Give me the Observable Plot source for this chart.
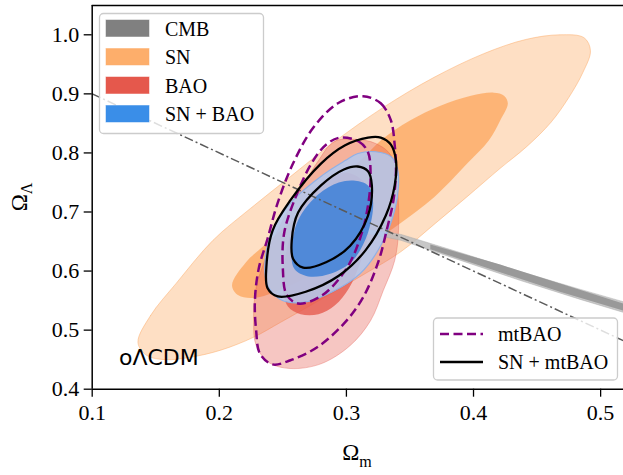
<!DOCTYPE html>
<html><head><meta charset="utf-8">
<script src="https://cdn.jsdelivr.net/npm/d3@7"></script>
<script src="https://cdn.jsdelivr.net/npm/@observablehq/plot@0.6"></script>
<style>body{margin:0;background:#fff}</style>
</head><body><div id="chart"></div>
<script>
// ---- data (Omega_m, Omega_Lambda) ----
const xTicks = [0.1, 0.2, 0.3, 0.4, 0.5];
const yTicks = [0.4, 0.5, 0.6, 0.7, 0.8, 0.9, 1.0];

const snOuter = [[0.136,0.479],[0.146,0.525],[0.166,0.579],[0.195,0.652],[0.2245,0.706],[0.256,0.760],[0.290,0.818],[0.329,0.877],[0.369,0.928],[0.408,0.968],[0.441,0.992],[0.468,1.000],[0.487,0.995],[0.492,0.973],[0.486,0.936],[0.475,0.894],[0.461,0.852],[0.442,0.811],[0.421,0.774],[0.395,0.726],[0.369,0.679],[0.343,0.633],[0.315,0.596],[0.280,0.552],[0.248,0.513],[0.227,0.488],[0.201,0.466],[0.177,0.454],[0.158,0.450],[0.143,0.457]];
const snInner = [[0.210,0.576],[0.221,0.615],[0.235,0.643],[0.264,0.699],[0.290,0.750],[0.311,0.787],[0.327,0.821],[0.350,0.855],[0.374,0.880],[0.398,0.897],[0.416,0.902],[0.424,0.897],[0.427,0.884],[0.421,0.855],[0.412,0.821],[0.395,0.782],[0.369,0.725],[0.343,0.682],[0.319,0.647],[0.288,0.609],[0.256,0.576],[0.229,0.555],[0.215,0.559]];
const baoOuter = [[0.290,0.819],[0.307,0.823],[0.323,0.816],[0.335,0.796],[0.340,0.741],[0.341,0.669],[0.338,0.618],[0.329,0.567],[0.319,0.516],[0.303,0.474],[0.280,0.443],[0.256,0.435],[0.239,0.445],[0.229,0.474],[0.227,0.516],[0.229,0.572],[0.238,0.630],[0.250,0.686],[0.266,0.745],[0.278,0.787]];
const baoInner = [[0.299,0.767],[0.313,0.753],[0.319,0.720],[0.317,0.660],[0.310,0.609],[0.302,0.571],[0.291,0.542],[0.278,0.527],[0.264,0.527],[0.254,0.540],[0.250,0.576],[0.252,0.626],[0.260,0.686],[0.273,0.733],[0.286,0.758]];
const snBaoOuter = [[0.309,0.799],[0.323,0.802],[0.335,0.794],[0.340,0.775],[0.341,0.745],[0.338,0.703],[0.328,0.647],[0.311,0.596],[0.289,0.565],[0.266,0.547],[0.248,0.552],[0.238,0.576],[0.236,0.618],[0.242,0.669],[0.258,0.720],[0.281,0.762],[0.299,0.787]];
const snBaoInner = [[0.307,0.753],[0.317,0.745],[0.321,0.716],[0.317,0.665],[0.305,0.618],[0.288,0.596],[0.270,0.591],[0.259,0.604],[0.257,0.635],[0.262,0.686],[0.278,0.730],[0.294,0.750]];
const mtbaoOuter = [[0.313,0.896],[0.327,0.884],[0.335,0.855],[0.338,0.813],[0.339,0.770],[0.337,0.720],[0.332,0.672],[0.325,0.615],[0.313,0.555],[0.298,0.511],[0.277,0.471],[0.256,0.449],[0.242,0.442],[0.232,0.460],[0.229,0.499],[0.228,0.550],[0.231,0.604],[0.238,0.655],[0.246,0.716],[0.258,0.782],[0.274,0.843],[0.294,0.885]];
const mtbaoInner = [[0.295,0.826],[0.310,0.819],[0.317,0.801],[0.319,0.762],[0.317,0.711],[0.311,0.657],[0.300,0.604],[0.281,0.559],[0.262,0.545],[0.253,0.560],[0.250,0.604],[0.251,0.664],[0.260,0.725],[0.273,0.784],[0.284,0.814]];
const snMtbaoOuter = [[0.317,0.826],[0.327,0.826],[0.335,0.814],[0.339,0.787],[0.338,0.745],[0.331,0.694],[0.315,0.635],[0.294,0.592],[0.268,0.565],[0.246,0.557],[0.238,0.571],[0.237,0.606],[0.242,0.669],[0.256,0.720],[0.280,0.782],[0.299,0.813]];
const snMtbaoInner = [[0.309,0.777],[0.317,0.769],[0.320,0.745],[0.317,0.694],[0.303,0.643],[0.284,0.615],[0.266,0.606],[0.258,0.621],[0.257,0.652],[0.262,0.699],[0.280,0.745],[0.298,0.772]];
const cmbOuter = [[0.302,0.675],[0.343,0.662],[0.390,0.631],[0.437,0.599],[0.484,0.569],[0.518,0.548],[0.518,0.530],[0.484,0.552],[0.437,0.584],[0.390,0.618],[0.343,0.652],[0.302,0.670]];
const cmbInner = [[0.366,0.645],[0.421,0.611],[0.468,0.579],[0.518,0.545],[0.518,0.533],[0.468,0.565],[0.421,0.598],[0.366,0.637]];
const flatLine = [[0.1,0.9],[0.518,0.482]];

const legendLabels = ["CMB", "SN", "BAO", "SN + BAO"];
const legendColors = ["#808080", "#fdae6b", "#e5584c", "#3a8ee8"];
const lineLegendLabels = ["mtBAO", "SN + mtBAO"];
const modelLabel = "oΛCDM";

// ---- helpers ----
const pts = a => a.map(([x, y]) => ({x, y}));
const shape = (a, o) => Plot.line(pts(a), {x: "x", y: "y", curve: "catmull-rom-closed", clip: true, ...o});

const SERIF = '"Liberation Serif", "DejaVu Serif", "Times New Roman", serif';

const plot = Plot.plot({
  width: 623, height: 475,
  marginLeft: 91.7, marginRight: 0, marginTop: 5, marginBottom: 86.3,
  x: {domain: [0.1, 0.518]},
  y: {domain: [0.4, 1.0496]},
  style: {background: "white", overflow: "visible", color: "black"},
  marks: [
    shape(snOuter, {fill: "#fdae6b", fillOpacity: 0.4, stroke: "#fdae6b", strokeOpacity: 0.5, strokeWidth: 1}),
    shape(snInner, {fill: "#fdae6b", fillOpacity: 0.88, stroke: "none"}),
    shape(baoOuter, {fill: "#e5584c", fillOpacity: 0.34, stroke: "#e5584c", strokeOpacity: 0.35, strokeWidth: 1}),
    shape(baoInner, {fill: "#e5584c", fillOpacity: 0.78, stroke: "none"}),
    shape(cmbOuter, {curve: "linear-closed", fill: "#bdbdbd", fillOpacity: 0.85, stroke: "#aaaaaa", strokeOpacity: 0.6, strokeWidth: 0.8}),
    shape(cmbInner, {curve: "linear-closed", fill: "#939393", fillOpacity: 0.9, stroke: "none"}),
    shape(snBaoOuter, {fill: "#b3c8ee", fillOpacity: 0.87, stroke: "#8fb0e6", strokeWidth: 1.2}),
    shape(snBaoInner, {fill: "#4a86d8", fillOpacity: 0.95, stroke: "none"}),
    Plot.line(pts(flatLine), {x: "x", y: "y", stroke: "#5a5a5a", strokeWidth: 1.5, strokeDasharray: "9,3,2,3", strokeLinecap: "butt", clip: true}),
    shape(mtbaoOuter, {stroke: "#800080", strokeWidth: 2.5, strokeDasharray: "9,4.5", strokeLinecap: "butt"}),
    shape(mtbaoInner, {stroke: "#800080", strokeWidth: 2.5, strokeDasharray: "9,4.5", strokeLinecap: "butt"}),
    shape(snMtbaoOuter, {stroke: "black", strokeWidth: 2.3}),
    shape(snMtbaoInner, {stroke: "black", strokeWidth: 2.3}),
    Plot.ruleX([0.1], {stroke: "black", strokeWidth: 1.5}),
    Plot.ruleY([0.4], {stroke: "black", strokeWidth: 1.5}),
    Plot.ruleY([1.0496], {stroke: "black", strokeWidth: 1.5}),
    Plot.axisX({ticks: xTicks, tickFormat: d3.format(".1f"), tickSize: 8, tickPadding: 7, strokeWidth: 1.3, label: null}),
    Plot.axisY({ticks: yTicks, tickFormat: d3.format(".1f"), tickSize: 8, tickPadding: 5, strokeWidth: 1.3, label: null})
  ]
});

document.getElementById("chart").appendChild(plot);
const svg = d3.select(plot);

// serif tick labels
svg.selectAll("text").style("font-family", SERIF).style("font-size", "22px").style("fill", "black");

const addText = (parent, x, y, txt, size, anchor, family) =>
  parent.append("text").attr("x", x).attr("y", y).attr("text-anchor", anchor)
    .style("text-anchor", anchor).style("font-family", family || SERIF).style("font-size", size + "px")
    .style("fill", "black").text(txt);

// axis labels with subscripts
const xl = svg.append("text").attr("x", 357).attr("y", 460)
  .style("text-anchor", "middle").style("font-family", SERIF).style("font-size", "23px").style("fill", "black");
xl.append("tspan").text("Ω");
xl.append("tspan").style("font-size", "16px").attr("dy", 7).text("m");

const yl = svg.append("text").attr("transform", "translate(27,197) rotate(-90)")
  .style("text-anchor", "middle").style("font-family", SERIF).style("font-size", "23px").style("fill", "black");
yl.append("tspan").text("Ω");
yl.append("tspan").style("font-size", "16px").attr("dy", 5).text("Λ");

// model label
addText(svg, 119, 365, modelLabel, 22, "start", '"DejaVu Sans", sans-serif');

// legend 1 (filled regions)
const lg = svg.append("g");
lg.append("rect").attr("x", 99.5).attr("y", 13.5).attr("width", 164).attr("height", 120).attr("rx", 4)
  .attr("fill", "white").attr("fill-opacity", 0.8).attr("stroke", "#cccccc").attr("stroke-width", 1.3);
const rowY = [20, 48.5, 77, 105.5];
legendLabels.forEach((t, i) => {
  lg.append("rect").attr("x", 106).attr("y", rowY[i]).attr("width", 43).attr("height", 16.5)
    .attr("fill", legendColors[i]).attr("stroke", legendColors[i]).attr("stroke-opacity", 0.5);
  addText(lg, 165, rowY[i] + 15.7, t, 20, "start");
});

// legend 2 (contour lines)
const lg2 = svg.append("g");
lg2.append("rect").attr("x", 433.5).attr("y", 318).attr("width", 184).attr("height", 62).attr("rx", 4)
  .attr("fill", "white").attr("fill-opacity", 0.8).attr("stroke", "#cccccc").attr("stroke-width", 1.3);
const lineStyles = [{stroke: "#800080", dash: "9,4.5"}, {stroke: "black", dash: null}];
const lineY = [334, 362];
lineLegendLabels.forEach((t, i) => {
  const l = lg2.append("line").attr("x1", 440).attr("x2", 483).attr("y1", lineY[i]).attr("y2", lineY[i])
    .attr("stroke", lineStyles[i].stroke).attr("stroke-width", 2.5);
  if (lineStyles[i].dash) l.attr("stroke-dasharray", lineStyles[i].dash);
  addText(lg2, 498, lineY[i] + 6.5, t, 20, "start");
});
</script>
</body></html>
